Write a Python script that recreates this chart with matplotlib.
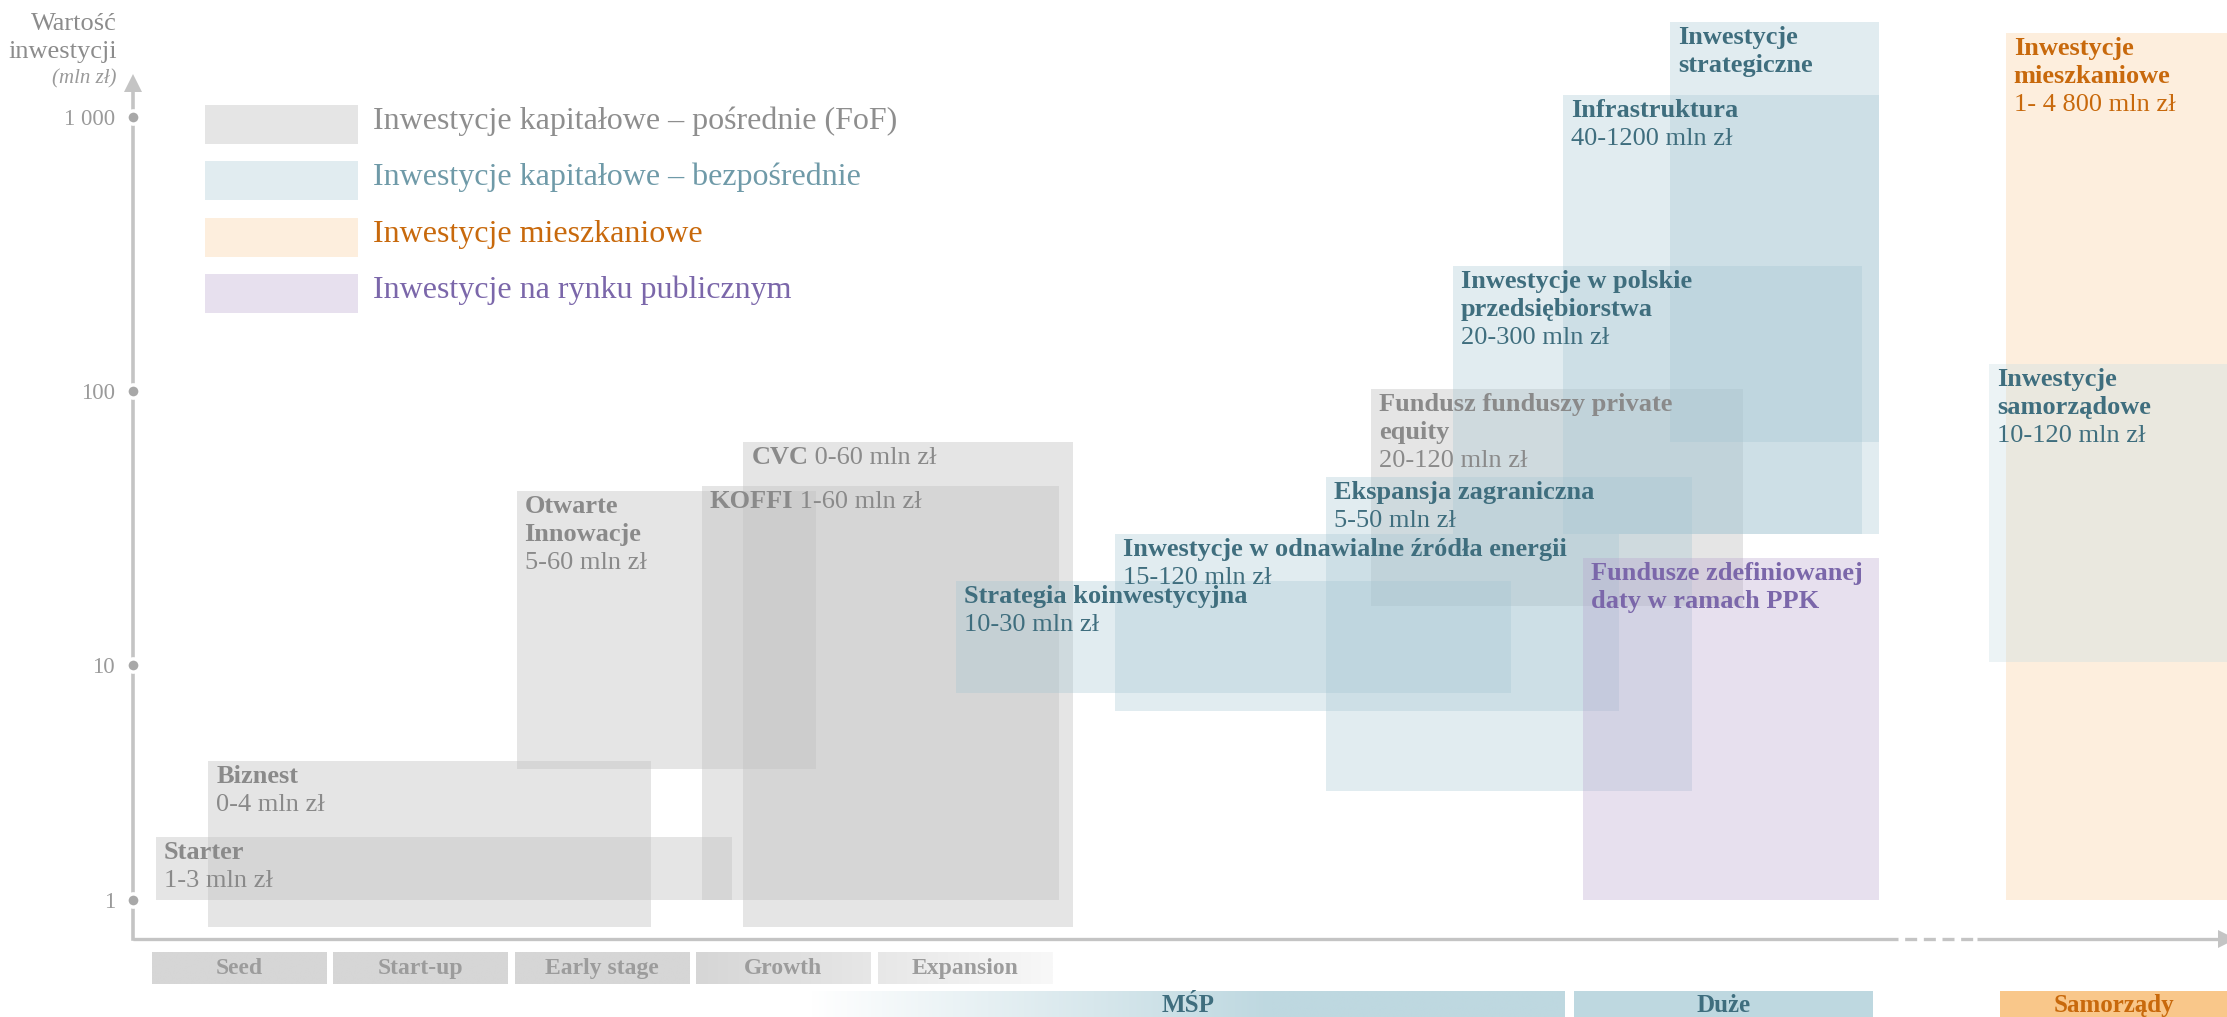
import numpy as np
import matplotlib
matplotlib.use('Agg')
import matplotlib.pyplot as plt
from matplotlib.patches import Rectangle
from matplotlib.ticker import NullLocator

plt.rcParams['font.family'] = ['Liberation Serif', 'DejaVu Serif']

# x axis: one unit per development stage
stages = ['Seed', 'Start-up', 'Early stage', 'Growth', 'Expansion']
groups = ['MŚP', 'Duże', 'Samorządy']
group_x0 = [3.63, 7.84, 10.19]
group_x1 = [7.79, 9.49, 11.60]

# investment categories (legend)
cat_keys = ['fof', 'direct', 'housing', 'public']
cat_labels = ['Inwestycje kapitałowe – pośrednie (FoF)',
              'Inwestycje kapitałowe – bezpośrednie',
              'Inwestycje mieszkaniowe',
              'Inwestycje na rynku publicznym']

# programmes: title, range, category, stage span, value span (mln zł)
box_titles = ['Starter', 'Biznest', 'Otwarte\nInnowacje', 'KOFFI', 'CVC',
              'Fundusz funduszy private\nequity', 'Strategia koinwestycyjna',
              'Inwestycje w odnawialne źródła energii', 'Ekspansja zagraniczna',
              'Inwestycje w polskie\nprzedsiębiorstwa', 'Infrastruktura',
              'Inwestycje\nstrategiczne', 'Fundusze zdefiniowanej\ndaty w ramach PPK',
              'Inwestycje\nmieszkaniowe', 'Inwestycje\nsamorządowe']
box_ranges = ['1-3 mln zł', '0-4 mln zł', '5-60 mln zł', '1-60 mln zł', '0-60 mln zł',
              '20-120 mln zł', '10-30 mln zł', '15-120 mln zł', '5-50 mln zł',
              '20-300 mln zł', '40-1200 mln zł', '', '',
              '1- 4 800 mln zł', '10-120 mln zł']
box_inline = [False, False, False, True, True, False, False, False, False,
              False, False, False, False, False, False]
box_cat = ['fof', 'fof', 'fof', 'fof', 'fof', 'fof', 'direct', 'direct', 'direct',
           'direct', 'direct', 'direct', 'public', 'housing', 'local']
box_x0 = [0.02, 0.31, 2.01, 3.03, 3.26, 6.72, 4.43, 5.31, 6.47, 7.17, 7.78, 8.37, 7.89, 10.22, 10.13]
box_x1 = [3.20, 2.75, 3.66, 5.00, 5.08, 8.77, 7.49, 8.09, 8.49, 9.43, 9.52, 9.52, 9.52, 11.60, 11.60]
box_v0 = [1.0, 0.77, 3.6, 1.0, 0.77, 16.4, 7.6, 6.4, 2.9, 30, 30, 65, 1.0, 1.0, 10.3]
box_v1 = [1.85, 3.9, 43, 45, 65, 102, 20.3, 30, 48.5, 286, 1200, 2220, 24.6, 2030, 125]

styles = {
    'fof': dict(face='#c2c2c2', alpha=0.42, text='#8a8a8a', legend='#8e8e8e'),
    'direct': dict(face='#a5c6d2', alpha=0.33, text='#3f6e7e', legend='#6f9aa8'),
    'housing': dict(face='#f9cc99', alpha=0.33, text='#c8690c', legend='#c8690c'),
    'public': dict(face='#b7a2cc', alpha=0.33, text='#7b67aa', legend='#7b67aa'),
    'local': dict(face='#c9dde3', alpha=0.35, text='#3f6e7e', legend='#6f9aa8'),
}

# bottom decade of the value axis is drawn shorter than the others
R = 235 / 274.0


def fwd(v):
    L = np.log10(np.clip(np.asarray(v, dtype=float), 1e-9, None))
    return np.where(L >= 1, L, 1 - (1 - L) * R)


def inv(p):
    p = np.asarray(p, dtype=float)
    return np.where(p >= 1, 10 ** p, 10 ** (1 - (1 - p) / R))


W, H = 2227.0, 1017.0
fig = plt.figure(figsize=(W / 100, H / 100), dpi=100)
ax = fig.add_axes([133 / W, 78 / H, 1 - 133 / W, 939 / H])
ax.set_yscale('function', functions=(fwd, inv))

axis_col = '#c4c4c4'

# boxes
for i in range(len(box_titles)):
    st = styles[box_cat[i]]
    ax.add_patch(Rectangle((box_x0[i], box_v0[i]), box_x1[i] - box_x0[i],
                           box_v1[i] - box_v0[i], facecolor=st['face'],
                           alpha=st['alpha'], edgecolor='none', zorder=2))

# box labels
LINE = 28.0
FIRST = 22.0
for i in range(len(box_titles)):
    st = styles[box_cat[i]]
    lines = box_titles[i].split('\n')
    for j, line in enumerate(lines):
        t = ax.annotate(line, (box_x0[i], box_v1[i]), xytext=(8, -FIRST - LINE * j),
                        textcoords='offset pixels', va='baseline', ha='left',
                        fontsize=19, fontweight='bold', color=st['text'], zorder=5)
    if box_ranges[i]:
        if box_inline[i]:
            ax.annotate(' ' + box_ranges[i], (1, 0), xycoords=t, va='bottom', ha='left',
                        fontsize=19, color=st['text'], zorder=5)
        else:
            ax.annotate(box_ranges[i], (box_x0[i], box_v1[i]),
                        xytext=(8, -FIRST - LINE * len(lines)), textcoords='offset pixels',
                        va='baseline', ha='left', fontsize=19, color=st['text'], zorder=5)

ax.set_xlim(-0.105, 11.44)
ax.set_ylim(0.683, 2673)

# axes
for s in ['top', 'right', 'bottom']:
    ax.spines[s].set_visible(False)
ax.spines['left'].set_color(axis_col)
ax.spines['left'].set_linewidth(2.6)
ax.spines['left'].set_bounds(0.683, 1300)
ax.set_xticks([])
ax.set_yticks([1, 10, 100, 1000])
ax.set_yticklabels(['1', '10', '100', '1 000'])
ax.yaxis.set_minor_locator(NullLocator())
ax.tick_params(axis='y', length=0, pad=13, labelsize=16.5, labelcolor='#9a9a9a')
ax.patch.set_alpha(0)

ytr = ax.get_yaxis_transform()
ax.plot([0] * 4, [1, 10, 100, 1000], 'o', ms=9.5, mfc='#a8a8a8', mec='white', mew=2.5,
        transform=ytr, clip_on=False, zorder=6)
ax.plot([0], [1330], marker='^', ms=13, color=axis_col, mew=0, transform=ytr,
        clip_on=False, zorder=6)

xtr = ax.get_xaxis_transform()
ax.plot([-0.105, 9.625], [0, 0], color=axis_col, lw=2.4, transform=xtr, clip_on=False,
        solid_capstyle='butt')
ax.plot([9.625, 10.061], [0, 0], color=axis_col, lw=2.4, transform=xtr, clip_on=False,
        linestyle=(3.6, (3.6, 2.0)), dash_capstyle='butt')
ax.plot([10.061, 11.44], [0, 0], color=axis_col, lw=2.4, transform=xtr, clip_on=False,
        solid_capstyle='butt')
ax.plot([11.44], [0], marker='>', ms=13, color=axis_col, mew=0, transform=xtr,
        clip_on=False)

# axis title
fig.text(117 / W, 1 - 24 / H, 'Wartość', ha='right', va='center', fontsize=19, color='#8c8c8c')
fig.text(117 / W, 1 - 52 / H, 'inwestycji', ha='right', va='center', fontsize=19, color='#8c8c8c')
fig.text(117 / W, 1 - 79 / H, '(mln zł)', ha='right', va='center', fontsize=15,
         style='italic', color='#9a9a9a')

# legend (drawn by hand in figure pixels)
for i, k in enumerate(cat_keys):
    top = 105 + 56.3 * i
    fig.patches.append(Rectangle((205 / W, 1 - (top + 39) / H), 153 / W, 39 / H,
                                 transform=fig.transFigure, facecolor=styles[k]['face'],
                                 alpha=styles[k]['alpha'], edgecolor='none'))
    fig.text(373 / W, 1 - (top + 24) / H, cat_labels[i], ha='left', va='baseline',
             fontsize=23, color=styles[k]['legend'])

# bottom strips: stages and company groups
ax2 = fig.add_axes([133 / W, 0, 1 - 133 / W, 78 / H])
ax2.axis('off')
for i, name in enumerate(stages):
    xs = np.linspace(i, i + 0.96, 60)
    g = (214 + np.clip((xs - 3) / 1.96, 0, 1) * 34) / 255.0
    img = np.dstack([g, g, g]).reshape(1, 60, 3)
    ax2.imshow(img, extent=[i, i + 0.96, 0.423, 0.821], aspect='auto',
               interpolation='bilinear', zorder=1)
    ax2.text(i + 0.48, 0.62, name, ha='center', va='center', fontsize=17,
             fontweight='bold', color='#9c9c9c', zorder=3)

grp_face = ['#bed8e0', '#bed8e0', '#f9c78a']
grp_text = ['#3f6e7e', '#3f6e7e', '#c8690c']
for i, name in enumerate(groups):
    x0, x1 = group_x0[i], group_x1[i]
    if i == 0:
        xs = np.linspace(x0, x1, 200)
        a = np.clip((xs - x0) / 2.54, 0, 1)
        c = np.array(matplotlib.colors.to_rgb(grp_face[i]))
        img = (1 - a[:, None]) * 1.0 + a[:, None] * c[None, :]
        ax2.imshow(img[None, :, :], extent=[x0, x1, -0.1, 0.333], aspect='auto',
                   interpolation='bilinear', zorder=1)
    else:
        ax2.add_patch(Rectangle((x0, -0.1), x1 - x0, 0.433, facecolor=grp_face[i],
                                edgecolor='none', zorder=1))
    ax2.text((x0 + min(x1, 11.44)) / 2, 0.15, name, ha='center', va='center', fontsize=18,
             fontweight='bold', color=grp_text[i], zorder=3)
ax2.set_xlim(-0.105, 11.44)
ax2.set_ylim(0, 1)

fig.savefig('out.png', dpi=100)
